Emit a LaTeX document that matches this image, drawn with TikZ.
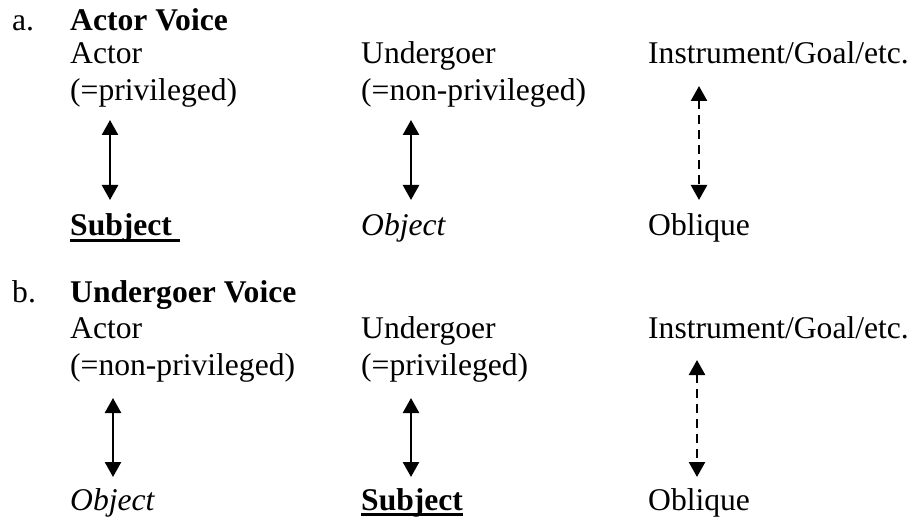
\documentclass[tikz,border=0pt]{standalone}
\usepackage{fontspec}
\setmainfont{Liberation Serif}
\usetikzlibrary{arrows.meta}

\begin{document}
\begin{tikzpicture}[x=1pt, y=-1pt,
    lbl/.style={anchor=base west, inner sep=0pt, font=\fontsize{31.6}{36}\selectfont},
    subj/.style={lbl, font=\fontsize{31.6}{36}\selectfont\bfseries, text depth=4pt},
    link/.style={{Triangle[width=16pt,length=15pt]}-{Triangle[width=16pt,length=15pt]}, line width=2.5pt},
    dlink/.style={link, dash pattern=on 9pt off 6pt}]
    \useasboundingbox (0,0) rectangle (912,518);

    %Nodes (a)
    \node[lbl] at (12, 31) (la) {a.};
    \node[lbl] at (70, 31) (ha) {\textbf{Actor Voice}};
    \node[lbl] at (70, 64) (actora) {Actor};
    \node[lbl] at (70, 101) (priva) {(=privileged)};
    \node[lbl] at (361, 64) (undera) {Undergoer};
    \node[lbl] at (361, 101) (npriva) {(=non-privileged)};
    \node[lbl] at (648, 64) (insta) {Instrument/Goal/etc.};
    \node[subj] at (70, 236) (subja) {Subject\ \mbox{}};
    \node[lbl] at (361, 236) (obja) {\textit{Object}};
    \node[lbl] at (648, 236) (obla) {Oblique};

    %Nodes (b)
    \node[lbl] at (12, 303) (lb) {b.};
    \node[lbl] at (70, 303) (hb) {\textbf{Undergoer Voice}};
    \node[lbl] at (70, 338) (actorb) {Actor};
    \node[lbl] at (70, 375) (nprivb) {(=non-privileged)};
    \node[lbl] at (361, 338) (underb) {Undergoer};
    \node[lbl] at (361, 375) (privb) {(=privileged)};
    \node[lbl] at (648, 338) (instb) {Instrument/Goal/etc.};
    \node[lbl] at (70, 510) (objb) {\textit{Object}};
    \node[subj] at (361, 510) (subjb) {Subject};
    \node[lbl] at (648, 510) (oblb) {Oblique};

    %Arrow ends
    \coordinate (a1t) at (110, 120);
    \coordinate (a1b) at (110, 200);
    \coordinate (a2t) at (411, 120);
    \coordinate (a2b) at (411, 200);
    \coordinate (a3t) at (699, 86);
    \coordinate (a3b) at (699, 200);
    \coordinate (b1t) at (113, 398);
    \coordinate (b1b) at (113, 477);
    \coordinate (b2t) at (411, 398);
    \coordinate (b2b) at (411, 477);
    \coordinate (b3t) at (697, 360);
    \coordinate (b3b) at (697, 477);

    %Lines
    \draw[link] (a1t) -- (a1b);
    \draw[link] (a2t) -- (a2b);
    \draw[dlink] (a3t) -- (a3b);
    \draw[link] (b1t) -- (b1b);
    \draw[link] (b2t) -- (b2b);
    \draw[dlink] (b3t) -- (b3b);

    %Underlines
    \draw[line width=3pt] (subja.south west) -- (subja.south east);
    \draw[line width=3pt] (subjb.south west) -- (subjb.south east);
\end{tikzpicture}
\end{document}
